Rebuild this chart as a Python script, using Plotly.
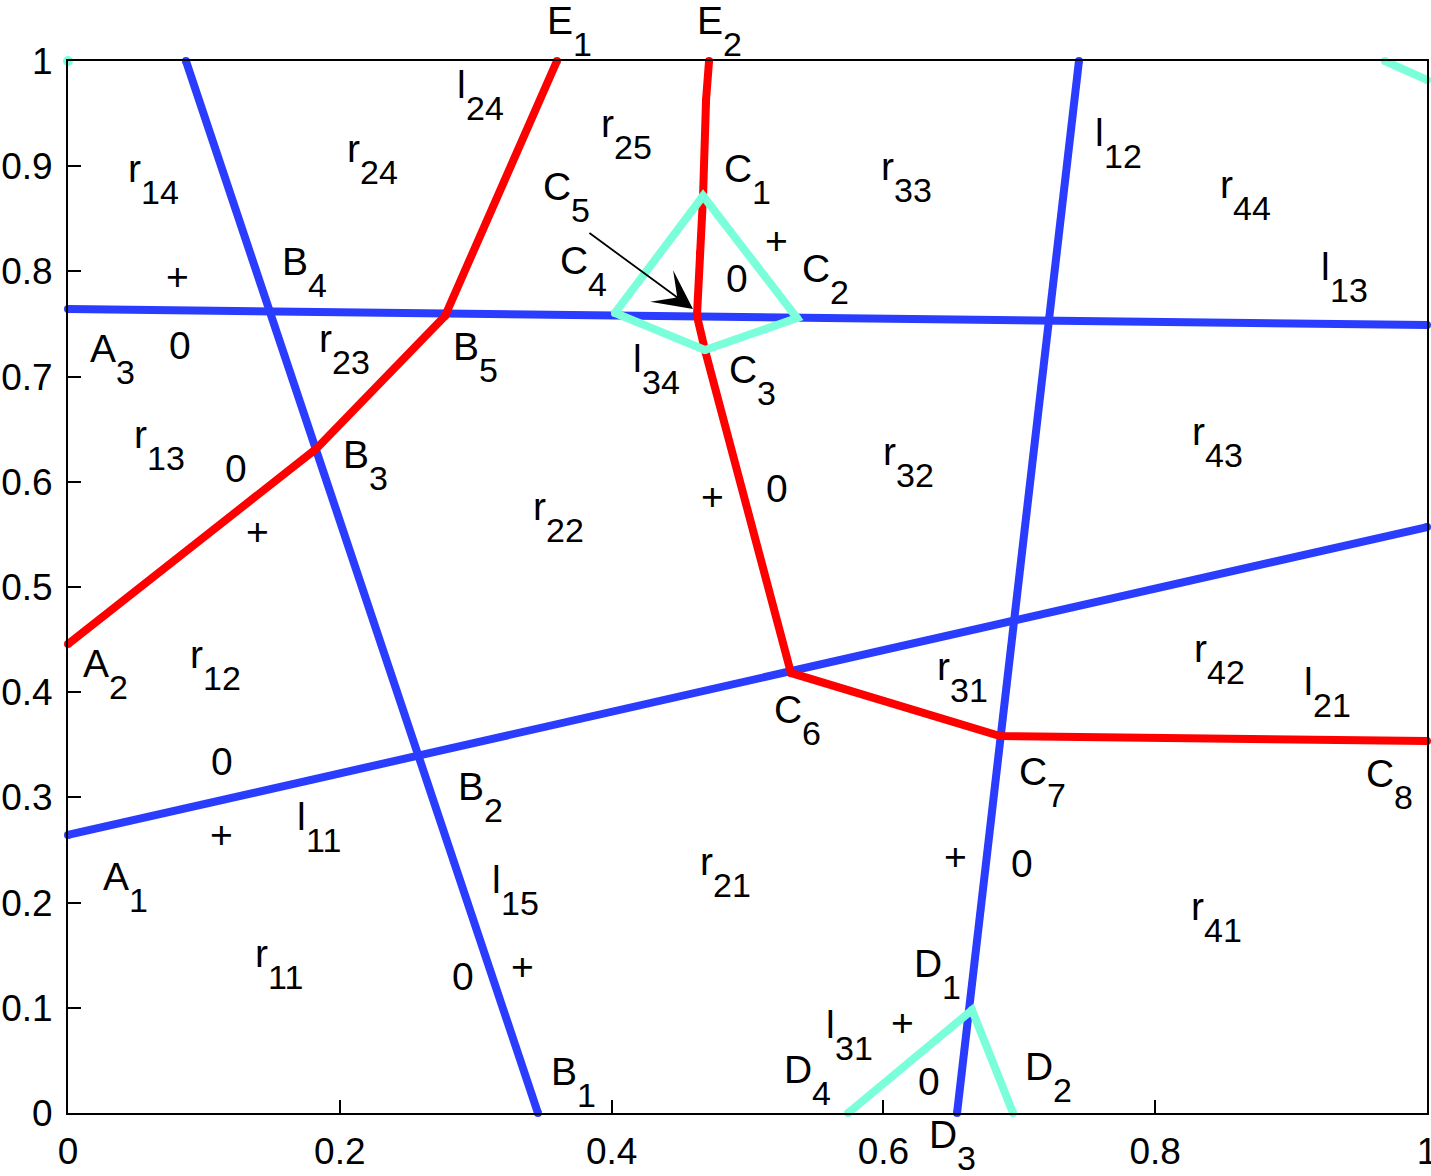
import plotly.graph_objects as go

# ---------------- data ----------------
# blue boundary lines
l15_x = [0.0868, 0.3458]
l15_y = [1.0, 0.0]
l13_x = [0.0, 1.0]
l13_y = [0.7643, 0.7490]
l11_x = [0.0, 1.0]
l11_y = [0.2643, 0.5570]
l12_x = [0.6542, 0.7439]
l12_y = [0.0, 1.0]

# red boundary lines
red1_x = [0.0, 0.1825, 0.2774, 0.3598]
red1_y = [0.4458, 0.6312, 0.7576, 1.0]
red2_x = [0.4717, 0.4695, 0.4673, 0.4650, 0.4628, 0.4687, 0.5320, 0.6858, 1.0]
red2_y = [1.0, 0.963, 0.8717, 0.8175, 0.7576, 0.7253, 0.4183, 0.3584, 0.3536]

# cyan boundary lines
quad_x = [0.4025, 0.4673, 0.5364, 0.4687, 0.4025]
quad_y = [0.7605, 0.8717, 0.7557, 0.7253, 0.7605]
tri_x = [0.5740, 0.6652, 0.6954]
tri_y = [0.0, 0.0979, 0.0]
corner_x = [0.9690, 1.0]
corner_y = [1.0, 0.982]
dot_x = [0.0]
dot_y = [1.0]

# labels: main letter, subscript, x, y (x = junction, y = baseline of main letter)
label_main = ["E", "E", "l", "r", "C", "r", "l", "r", "r", "r", "C", "C", "C", "C", "l",
              "B", "A", "r", "B", "l", "r", "B", "r", "r", "r", "A", "r", "r", "C", "r",
              "l", "C", "C", "B", "l", "A", "l", "r", "r", "r", "D", "l", "D", "D", "D", "B"]
label_sub = ["1", "2", "24", "25", "1", "33", "12", "44", "14", "24", "5", "4", "2", "3", "34",
             "4", "3", "23", "5", "13", "13", "3", "22", "32", "43", "2", "12", "31", "6", "42",
             "21", "7", "8", "2", "11", "1", "15", "21", "41", "11", "1", "31", "4", "2", "3", "1"]
label_x = [0.3716, 0.4820, 0.2929, 0.4018, 0.5033, 0.6078, 0.7623, 0.8573, 0.0537, 0.2149,
           0.3701, 0.3826, 0.5607, 0.5070, 0.4224, 0.1766, 0.0353, 0.1943, 0.3024, 0.9286,
           0.0581, 0.2215, 0.3517, 0.6093, 0.8366, 0.0302, 0.0993, 0.6490, 0.5401, 0.8381,
           0.9161, 0.7204, 0.9757, 0.3061, 0.1751, 0.0449, 0.3186, 0.4746, 0.8359, 0.1472,
           0.6431, 0.5644, 0.5475, 0.7248, 0.6542, 0.3745]
label_y = [1.0257, 1.0257, 0.9648, 0.9278, 0.8850, 0.8869, 0.9192, 0.8698, 0.8850, 0.9040,
           0.8679, 0.7975, 0.7899, 0.6939, 0.7044, 0.7966, 0.7139, 0.7234, 0.7158, 0.7918,
           0.6321, 0.6131, 0.5637, 0.6160, 0.6350, 0.4144, 0.4230, 0.4116, 0.3707, 0.4287,
           0.3973, 0.3118, 0.3099, 0.2975, 0.2690, 0.2120, 0.2091, 0.2262, 0.1835, 0.1388,
           0.1293, 0.0713, 0.0285, 0.0314, -0.0335, 0.0266]

# sign symbols
sym_text = ["+", "0", "0", "+", "+", "0", "+", "0", "0", "+", "+", "0", "0", "+", "+", "0"]
sym_x = [0.0809, 0.0824, 0.1236, 0.1398, 0.5217, 0.4923, 0.4746, 0.5217, 0.1133, 0.1126,
         0.6527, 0.7020, 0.2907, 0.3341, 0.6137, 0.6336]
sym_y = [0.7947, 0.7300, 0.6131, 0.5523, 0.8298, 0.7937, 0.5865, 0.5941, 0.3337, 0.2643,
         0.2443, 0.2367, 0.1293, 0.1388, 0.0856, 0.0295]

# arrow (C5 -> point)
arrow_tail = (0.3826, 0.8375)
arrow_tip = (0.4599, 0.7643)

x_ticks = [0, 0.2, 0.4, 0.6, 0.8, 1]
x_ticktext = ["0", "0.2", "0.4", "0.6", "0.8", "1"]
y_ticks = [0, 0.1, 0.2, 0.3, 0.4, 0.5, 0.6, 0.7, 0.8, 0.9, 1]
y_ticktext = ["0", "0.1", "0.2", "0.3", "0.4", "0.5", "0.6", "0.7", "0.8", "0.9", "1"]

# ---------------- style ----------------
BLUE = "#2a3dff"
RED = "#ff0000"
CYAN = "#7affda"
LW = 8
FONT = "Liberation Sans, Arial, Helvetica, sans-serif"
FS_MAIN = 39
FS_SUB = 34
FS_TICK = 37
SUB_DROP = 22

fig = go.Figure()


def add_line(xs, ys, color, width=LW, msize=None):
    fig.add_trace(go.Scatter(
        x=xs, y=ys, mode="lines+markers",
        line=dict(color=color, width=width),
        marker=dict(color=color, size=msize or width),
        cliponaxis=False, showlegend=False, hoverinfo="skip"))


for xs, ys in [(l15_x, l15_y), (l13_x, l13_y), (l11_x, l11_y), (l12_x, l12_y)]:
    add_line(xs, ys, BLUE)
for xs, ys in [(red1_x, red1_y), (red2_x, red2_y)]:
    add_line(xs, ys, RED)
for xs, ys in [(quad_x, quad_y), (tri_x, tri_y), (corner_x, corner_y)]:
    add_line(xs, ys, CYAN)
add_line(dot_x, dot_y, CYAN, msize=10)


def yref_for(y):
    # labels lying outside the axis range are placed in paper units
    # (the y axis spans the whole plot area, so both units coincide)
    return "y" if 0 <= y <= 1 else "paper"


annotations = []
for m, s, x, y in zip(label_main, label_sub, label_x, label_y):
    yr = yref_for(y)
    annotations.append(dict(
        x=x, y=y, xref="x", yref=yr, text=m, showarrow=False,
        xanchor="right", yanchor="middle", yshift=0.3465 * FS_MAIN,
        font=dict(family=FONT, size=FS_MAIN, color="black"),
        borderpad=0, borderwidth=0))
    annotations.append(dict(
        x=x, y=y, xref="x", yref=yr, text=s, showarrow=False,
        xanchor="left", yanchor="middle", yshift=-SUB_DROP + 0.3465 * FS_SUB,
        font=dict(family=FONT, size=FS_SUB, color="black"),
        borderpad=0, borderwidth=0))

for t, x, y in zip(sym_text, sym_x, sym_y):
    annotations.append(dict(
        x=x, y=y, xref="x", yref="y", text=t, showarrow=False,
        xanchor="center", yanchor="middle",
        font=dict(family=FONT, size=FS_MAIN, color="black"),
        borderpad=0, borderwidth=0))

annotations.append(dict(
    x=arrow_tip[0], y=arrow_tip[1], xref="x", yref="y",
    ax=arrow_tail[0], ay=arrow_tail[1], axref="x", ayref="y",
    text="", showarrow=True, arrowhead=3, arrowsize=3.6, arrowwidth=1.8,
    arrowcolor="black", standoff=0))

fig.update_layout(
    width=1431, height=1176,
    margin=dict(l=68, r=4, t=61, b=63, pad=0, autoexpand=False),
    paper_bgcolor="white", plot_bgcolor="white",
    font=dict(family=FONT, size=FS_MAIN, color="black"),
    annotations=annotations,
    showlegend=False,
)
fig.update_xaxes(
    range=[0, 1], tickvals=x_ticks, ticktext=x_ticktext,
    showline=True, linecolor="black", linewidth=2, mirror=True,
    ticks="inside", ticklen=13, tickwidth=2, tickcolor="black",
    showgrid=False, zeroline=False, ticklabelstandoff=5,
    automargin=False, ticklabeloverflow="allow",
    tickfont=dict(family=FONT, size=FS_TICK, color="black"))
fig.update_yaxes(
    range=[0, 1], tickvals=y_ticks, ticktext=y_ticktext,
    showline=True, linecolor="black", linewidth=2, mirror=True,
    ticks="inside", ticklen=13, tickwidth=2, tickcolor="black",
    showgrid=False, zeroline=False, ticklabelstandoff=6,
    automargin=False, ticklabeloverflow="allow",
    tickfont=dict(family=FONT, size=FS_TICK, color="black"))

fig.write_html("out.html")
